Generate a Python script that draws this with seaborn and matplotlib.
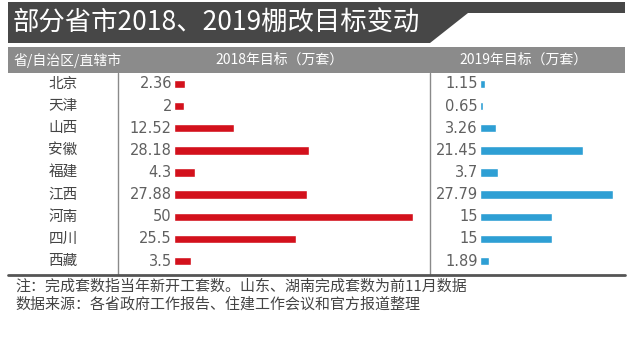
import matplotlib
matplotlib.use("Agg")
import matplotlib.pyplot as plt
import matplotlib.patches as mpatches
from matplotlib.transforms import blended_transform_factory
import seaborn as sns
import pandas as pd

provinces = ["北京", "天津", "山西", "安徽", "福建", "江西", "河南", "四川", "西藏"]
target_2018 = [2.36, 2, 12.52, 28.18, 4.3, 27.88, 50, 25.5, 3.5]
target_2019 = [1.15, 0.65, 3.26, 21.45, 3.7, 27.79, 15, 15, 1.89]

title = "部分省市2018、2019棚改目标变动"
header_region = "省/自治区/直辖市"
header_2018 = "2018年目标（万套）"
header_2019 = "2019年目标（万套）"
note_1 = "注：完成套数指当年新开工套数。山东、湖南完成套数为前11月数据"
note_2 = "数据来源：各省政府工作报告、住建工作会议和官方报道整理"

sns.set_theme(style="white")
plt.rcParams["font.family"] = ["Noto Sans CJK SC", "DejaVu Sans"]

W, H = 634, 340
fig = plt.figure(figsize=(W / 100, H / 100), dpi=100)
fig.patch.set_facecolor("white")


def fx(px):
    return px / W


def fy(py):
    return 1 - py / H


df = pd.DataFrame({"省": provinces, "2018": target_2018, "2019": target_2019})

# title band
poly = [(8, 2), (625, 2), (625, 13), (468, 13), (430, 43), (8, 43)]
fig.patches.append(mpatches.Polygon([(fx(x), fy(y)) for x, y in poly], closed=True,
                                    transform=fig.transFigure, facecolor="#474747",
                                    edgecolor="none", zorder=0))
fig.text(fx(13), fy(23), title, color="white", fontsize=19, va="center", ha="left")

# header band
fig.patches.append(mpatches.Rectangle((fx(8), fy(73)), fx(625) - fx(8), fy(47) - fy(73),
                                      transform=fig.transFigure, facecolor="#8b8b8b",
                                      edgecolor="none", zorder=0))
fig.text(fx(14), fy(60), header_region, color="white", fontsize=10, va="center", ha="left")
fig.text(fx(279), fy(60), header_2018, color="white", fontsize=10, va="center", ha="center")
fig.text(fx(524), fy(60), header_2019, color="white", fontsize=10, va="center", ha="center")

scale = 4.78  # px per unit
top, bottom = 72.9, 272.1


def make_ax(x0, x1, col, color):
    ax = fig.add_axes([fx(x0), fy(bottom), fx(x1) - fx(x0), fy(top) - fy(bottom)])
    sns.barplot(data=df, x=col, y="省", orient="h", color=color, width=0.38,
                saturation=1, ax=ax)
    ax.set_xlim(0, (x1 - x0) / scale)
    ax.set_ylim(len(provinces) - 0.5, -0.5)
    ax.axis("off")
    for i, v in enumerate(df[col]):
        ax.annotate("{:g}".format(v), xy=(0, i), xytext=(-1.5, 0), textcoords="offset points",
                    ha="right", va="center", fontsize=10.5, color="#606060",
                    family="DejaVu Sans")
    return ax


ax1 = make_ax(174, 430, "2018", "#d3111c")
ax2 = make_ax(480, 625, "2019", "#2e9fd4")

trans = blended_transform_factory(fig.transFigure, ax1.transData)
for i, p in enumerate(provinces):
    ax1.text(fx(63), i, p, transform=trans, ha="center", va="center",
             fontsize=10.5, color="#444444")

# separators
for xs in (118, 430):
    fig.add_artist(plt.Line2D([fx(xs), fx(xs)], [fy(73), fy(275)], color="#8a8a8a",
                              lw=1, transform=fig.transFigure))
fig.add_artist(plt.Line2D([fx(8), fx(625)], [fy(275), fy(275)], color="#555555",
                          lw=2, transform=fig.transFigure))

fig.text(fx(15), fy(287), note_1, color="#444444", fontsize=10.8, va="center", ha="left")
fig.text(fx(15), fy(304), note_2, color="#444444", fontsize=10.8, va="center", ha="left")

fig.savefig("out.png", dpi=100)
